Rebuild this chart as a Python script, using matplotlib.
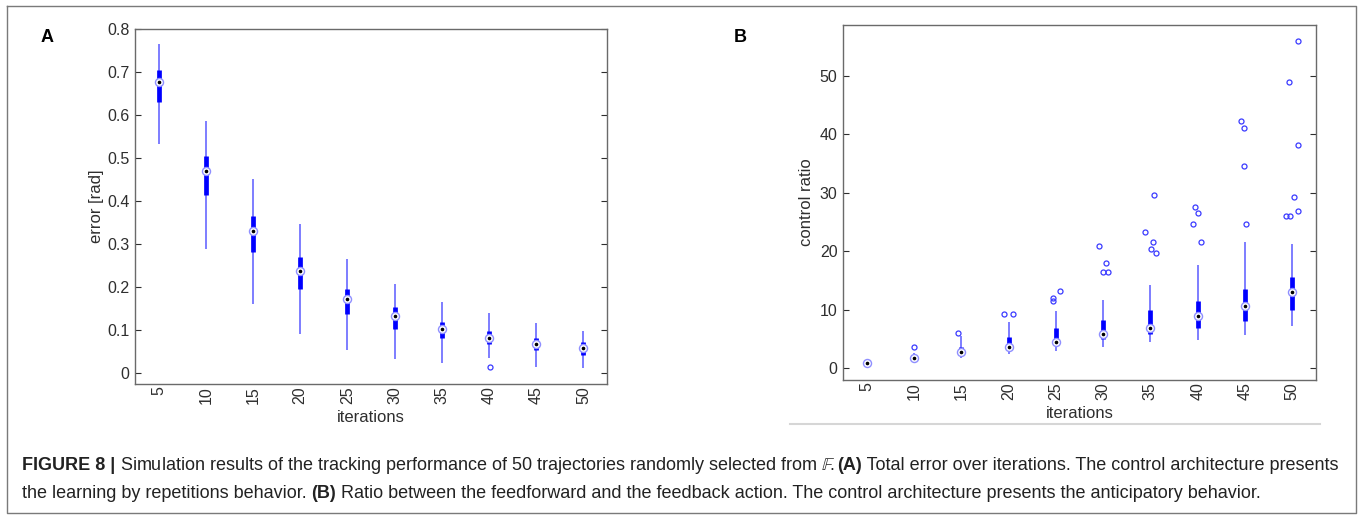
import matplotlib
matplotlib.use("Agg")
import matplotlib.pyplot as plt
from matplotlib.lines import Line2D

plt.rcParams['font.family'] = ['Liberation Sans', 'DejaVu Sans']
plt.rcParams['mathtext.fontset'] = 'stixsans'

iterations = [5, 10, 15, 20, 25, 30, 35, 40, 45, 50]

# panel A: error [rad]
err_wlo = [0.533, 0.288, 0.160, 0.091, 0.053, 0.033, 0.023, 0.034, 0.013, 0.011]
err_q1 = [0.631, 0.413, 0.281, 0.195, 0.137, 0.102, 0.081, 0.067, 0.053, 0.041]
err_med = [0.677, 0.470, 0.331, 0.237, 0.172, 0.133, 0.102, 0.082, 0.067, 0.057]
err_q3 = [0.705, 0.505, 0.364, 0.269, 0.196, 0.153, 0.118, 0.098, 0.082, 0.071]
err_whi = [0.764, 0.587, 0.451, 0.347, 0.266, 0.206, 0.166, 0.139, 0.117, 0.098]
err_out = [[], [], [], [], [], [], [], [0.015], [], []]
err_jit = [[], [], [], [], [], [], [], [0.03], [], []]

# panel B: control ratio
cr_wlo = [0.6, 1.4, 1.66, 2.4, 2.96, 3.54, 4.4, 4.8, 5.65, 7.2]
cr_q1 = [0.7, 1.5, 2.4, 3.2, 3.9, 4.9, 5.8, 6.85, 8.1, 9.93]
cr_med = [0.8, 1.66, 2.74, 3.54, 4.5, 5.87, 6.9, 8.85, 10.56, 13.07]
cr_q3 = [0.9, 1.9, 3.65, 5.25, 6.8, 8.2, 10.0, 11.5, 13.6, 15.5]
cr_whi = [1.0, 2.6, 5.5, 7.8, 9.76, 11.6, 14.2, 17.6, 21.6, 21.2]
cr_out = [[], [3.54], [5.94], [9.19, 9.19], [13.1, 12.0, 11.5],
          [20.9, 18.0, 16.5, 16.5], [29.6, 23.3, 21.5, 20.4, 19.6],
          [27.6, 26.5, 24.7, 21.5], [42.3, 41.0, 34.6, 24.6],
          [55.9, 49.0, 38.1, 29.2, 26.9, 26.1, 26.1]]
cr_jit = [[], [0.0], [-0.06], [-0.10, 0.09], [0.08, -0.06, -0.07],
          [-0.08, 0.06, -0.01, 0.11], [0.08, -0.11, 0.05, 0.01, 0.12],
          [-0.05, 0.01, -0.10, 0.06], [-0.08, -0.03, -0.03, 0.01],
          [0.11, -0.08, 0.11, 0.04, 0.11, -0.13, -0.06]]

W, H = 1360, 515
fig = plt.figure(figsize=(W / 100, H / 100), dpi=100)

tick_col = '#2e2e2e'
spine_col = '#6a6a6a'


def draw_box(ax, wlo, q1, med, q3, whi, outs, jits):
    pos = range(1, len(iterations) + 1)
    ax.vlines(pos, wlo, whi, color='#5a5aff', lw=1.1, zorder=2)
    ax.vlines(pos, q1, q3, color='#0000ff', lw=3.4, zorder=3)
    ax.plot(pos, med, ls='none', marker='o', ms=5.8, mfc='white',
            mec='#8f8fff', mew=1.0, zorder=4)
    ax.plot(pos, med, ls='none', marker='o', ms=1.6, color='black', zorder=5)
    for p, ys, js in zip(pos, outs, jits):
        if ys:
            ax.plot([p + j for j in js], ys, ls='none', marker='o', ms=3.6,
                    mfc='none', mec='#3a3aff', mew=0.9, zorder=3)
    ax.set_xlim(0.5, 10.5)
    ax.set_xticks(list(pos))
    ax.set_xticklabels([str(v) for v in iterations], rotation=90)
    ax.tick_params(axis='x', length=0, pad=1.5, labelsize=11.5, colors=tick_col)
    ax.tick_params(axis='y', direction='in', length=4, right=True,
                   labelsize=11.5, colors=tick_col, pad=4)
    for s in ax.spines.values():
        s.set_color(spine_col)
        s.set_linewidth(1.0)
    ax.set_xlabel('iterations', fontsize=12, color=tick_col, va='center')


axA = fig.add_axes([135 / W, 1 - 384 / H, 472 / W, 355 / H])
draw_box(axA, err_wlo, err_q1, err_med, err_q3, err_whi, err_out, err_jit)
axA.set_ylim(-0.0256, 0.8)
axA.set_yticks([0, 0.1, 0.2, 0.3, 0.4, 0.5, 0.6, 0.7, 0.8])
axA.set_yticklabels(['0', '0.1', '0.2', '0.3', '0.4', '0.5', '0.6', '0.7', '0.8'])
axA.set_ylabel('error [rad]', fontsize=12, color=tick_col, labelpad=2)
axA.xaxis.set_label_coords(0.5, -34 / 355)

axB = fig.add_axes([843 / W, 1 - 380 / H, 473 / W, 355 / H])
draw_box(axB, cr_wlo, cr_q1, cr_med, cr_q3, cr_whi, cr_out, cr_jit)
axB.set_ylim(-2.05, 58.7)
axB.set_yticks([0, 10, 20, 30, 40, 50])
axB.set_ylabel('control ratio', fontsize=12, color=tick_col, labelpad=4)
axB.xaxis.set_label_coords(0.5, -34 / 355)

fig.text(47 / W, 1 - 37 / H, 'A', fontsize=13, fontweight='bold',
         ha='center', va='center')
fig.text(740 / W, 1 - 37 / H, 'B', fontsize=13, fontweight='bold',
         ha='center', va='center')

# outer frame and separator
frame = dict(color='#7a7a7a', lw=1.0, transform=fig.transFigure)
x0, x1, y0, y1 = 7 / W, 1356 / W, 1 - 6 / H, 1 - 513 / H
fig.add_artist(Line2D([x0, x1, x1, x0, x0], [y0, y0, y1, y1, y0], **frame))
fig.add_artist(Line2D([790 / W, 1320 / W], [1 - 424 / H, 1 - 424 / H],
                      color='#d6d6d6', lw=1.5, transform=fig.transFigure))

# caption with bold fragments
line1 = [('FIGURE 8 | ', 'bold'),
         ('Simulation results of the tracking performance of 50 trajectories randomly selected from $\\mathbb{F}$. ', 'normal'),
         ('(A)', 'bold'),
         (' Total error over iterations. The control architecture presents', 'normal')]
line2 = [('the learning by repetitions behavior. ', 'normal'),
         ('(B)', 'bold'),
         (' Ratio between the feedforward and the feedback action. The control architecture presents the anticipatory behavior.', 'normal')]

renderer = fig.canvas.get_renderer()


def draw_line(segs, x_px, y_px, size):
    x = x_px
    for txt, wt in segs:
        t = fig.text(x / W, 1 - y_px / H, txt, fontsize=size, fontweight=wt,
                     ha='left', va='center', color='#222222')
        bb = t.get_window_extent(renderer)
        x += bb.width
    return x - x_px


# fit font size so that the first line spans the same width as the reference
probe = 10
w = draw_line(line1, -5000, -5000, probe)
for t in list(fig.texts):
    if t.get_position()[0] < 0:
        t.remove()
size = probe * (1318 / w)
draw_line(line1, 22, 466, size)
draw_line(line2, 22, 493, size)

fig.savefig('out.png', dpi=100)
